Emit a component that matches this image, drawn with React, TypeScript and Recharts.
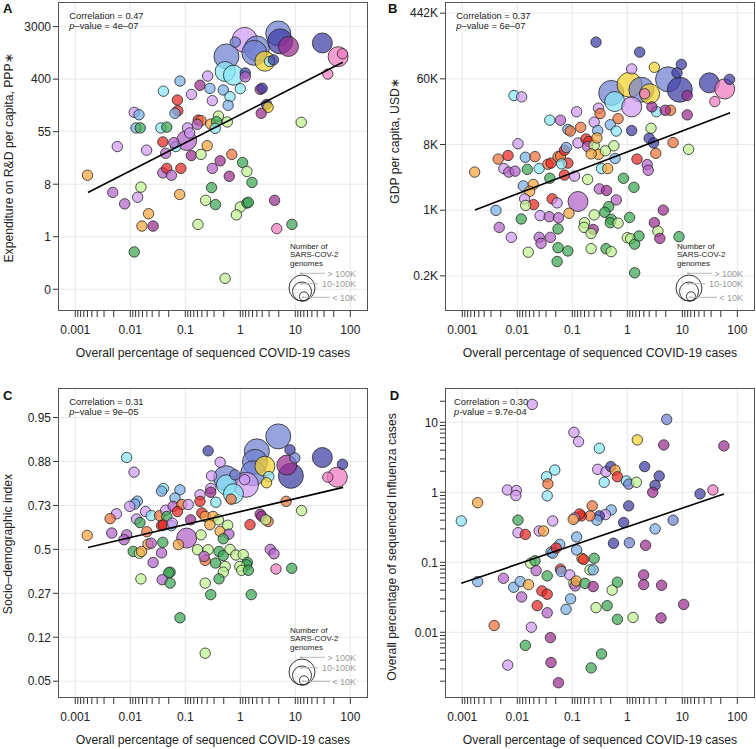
import React from "react";
import { ScatterChart, Scatter, XAxis, YAxis, CartesianGrid } from "recharts";

// [covid % sequenced, y value, region, genome class (0 <10K, 1 10-100K, 2 >100K)]
type Pt = [number, number, string, number];

const xTickLabels = ["0.001", "0.01", "0.1", "1", "10", "100"];
const rdTickLabels = ["0", "1", "8", "55", "400", "3000"];
const gdpTickLabels = ["0.2K", "1K", "8K", "60K", "442K"];
const sdiTickLabels = ["0.05", "0.12", "0.27", "0.5", "0.73", "0.88", "0.95"];
const fluTickLabels = ["0.01", "0.1", "1", "10"];

const correlations = ["0.47", "0.37", "0.31", "0.30"];
const pValues = ["–value = 4e–07", "–value = 6e–07", "–value = 9e–05", "-value = 9.7e-04"];
const genomeLabels = ["> 100K", "10-100K", "< 10K"];

const rdPoints: Pt[] = [
  [0.56, 960, "bl", 2], [1.2, 1800, "lv", 2], [2.0, 1300, "bl", 2], [1.8, 1100, "bl", 2],
  [4.9, 2300, "bl", 2], [5.3, 1700, "nv", 2], [7.5, 1400, "mg", 1], [31, 1600, "nv", 1],
  [60, 950, "pk", 1], [2.8, 800, "ye", 1], [0.53, 540, "cy", 1], [0.75, 470, "cy", 1],
  [0.81, 1650, "bl", 0], [1.23, 510, "nv", 0], [1.23, 440, "vi", 0], [3.4, 790, "cy", 0],
  [4.0, 840, "nv", 0], [72, 1060, "pk", 0], [39, 490, "pk", 0], [0.08, 375, "lb", 0],
  [0.04, 255, "cy", 0], [0.13, 226, "lv", 0], [0.185, 320, "mg", 0], [0.255, 455, "lv", 0],
  [0.28, 284, "lb", 0], [0.31, 178, "lv", 0], [0.49, 267, "lb", 0], [0.65, 207, "cy", 0],
  [0.6, 149, "lb", 0], [1.0, 281, "cy", 0], [2.3, 273, "mg", 0], [2.5, 285, "nv", 0],
  [0.072, 182, "rd", 0], [0.073, 121, "rd", 0], [0.065, 110, "lb", 0], [0.0118, 114, "lv", 0],
  [0.0144, 104, "lb", 0], [0.0127, 63, "lb", 0], [0.0152, 63, "gr", 0], [0.036, 63, "cy", 0],
  [0.046, 65, "gr", 0], [0.11, 63, "lv", 0], [0.172, 85, "rd", 0], [0.193, 83, "ro", 0],
  [0.165, 72, "vi", 0], [0.29, 73, "or", 0], [0.4, 99, "lg", 0], [0.37, 80, "gr", 0],
  [0.58, 79, "lg", 0], [0.35, 62, "cy", 0], [3.0, 154, "nv", 0], [3.2, 138, "ye", 0],
  [2.4, 110, "mg", 0], [12.8, 78, "lg", 0], [0.0058, 31, "lv", 0], [0.0198, 27, "lv", 0],
  [0.039, 37, "rd", 0], [0.044, 24, "vi", 0], [0.067, 31, "cy", 0], [0.062, 36, "vi", 0],
  [0.106, 39, "vi", 1], [0.12, 52, "lv", 0], [0.25, 32, "or", 0], [0.129, 22, "mg", 0],
  [0.193, 23, "lg", 0], [0.43, 18, "mg", 0], [0.7, 23, "ro", 0], [0.31, 13.5, "vi", 0],
  [0.63, 10, "mg", 0], [1.1, 16.9, "gr", 0], [1.32, 12, "lg", 0], [1.63, 7.9, "gr", 0],
  [0.039, 11.4, "vi", 0], [0.046, 13.5, "rd", 0], [0.056, 10.4, "vi", 0], [0.083, 13.5, "rd", 0],
  [0.00167, 10.4, "or", 0], [0.0048, 5.4, "vi", 0], [0.0079, 3.5, "vi", 0], [0.0136, 4.5, "lv", 0],
  [0.0156, 6.6, "lg", 0], [0.079, 5.0, "or", 0], [0.3, 6.5, "gr", 0], [0.234, 4.0, "lg", 0],
  [0.355, 3.4, "gr", 0], [1.0, 3.1, "lg", 0], [0.85, 2.3, "lg", 0], [1.32, 3.6, "gr", 0],
  [1.4, 3.7, "gr", 0], [4.2, 4.0, "mg", 0], [0.0215, 2.4, "or", 0], [0.0163, 1.5, "or", 0],
  [0.026, 1.5, "mg", 0], [0.17, 1.6, "lg", 0], [8.7, 1.6, "gr", 0], [4.6, 1.36, "pk", 0],
  [0.0118, 0.56, "gr", 0], [0.53, 0.205, "lg", 0],
];
const rdFit: [number, number][] = [[0.0017, 5.4], [73, 770]];

const gdpPoints: Pt[] = [
  [0.51, 39000, "bl", 2], [1.1, 50000, "ye", 2], [1.8, 43000, "bl", 2], [5.5, 59000, "bl", 2],
  [9.0, 43000, "nv", 2], [31, 53000, "nv", 1], [59, 44000, "pk", 1], [0.59, 30000, "cy", 1],
  [1.2, 25500, "lv", 1], [2.55, 38000, "ye", 1], [0.127, 1430, "vi", 1],
  [0.27, 183000, "nv", 0], [1.68, 135000, "nv", 0], [1.2, 81000, "lv", 0], [3.1, 85000, "ye", 0],
  [9.6, 93000, "nv", 0], [8.0, 72000, "nv", 0], [72, 59000, "nv", 0], [2.07, 38000, "pk", 0],
  [12.3, 36000, "mg", 0], [39, 30000, "pk", 0], [3.4, 22000, "cy", 0], [6.1, 23000, "ro", 0],
  [4.9, 23000, "mg", 0], [2.8, 25500, "mg", 0], [12.3, 20000, "mg", 0], [0.0087, 36000, "cy", 0],
  [0.012, 34600, "lv", 0], [0.039, 17000, "cy", 0], [0.061, 17000, "vi", 0], [0.12, 22000, "lv", 0],
  [0.3, 24500, "lv", 0], [0.32, 20800, "ro", 0], [0.68, 17800, "ro", 0], [0.25, 16000, "lv", 0],
  [0.142, 13700, "ro", 0], [0.083, 12800, "lb", 0], [0.092, 12200, "ro", 0], [0.29, 12400, "lb", 0],
  [0.49, 14800, "lb", 0], [0.63, 12200, "cy", 0], [1.2, 12400, "nv", 0], [2.7, 13300, "lg", 0],
  [2.5, 9800, "nv", 0], [3.0, 8500, "nv", 0], [6.8, 8600, "ro", 0], [13, 7000, "lg", 0],
  [0.0103, 8300, "lv", 0], [0.0045, 5200, "ro", 0], [0.0068, 5800, "rd", 0], [0.014, 5500, "lb", 0],
  [0.021, 5600, "ro", 0], [0.0057, 3900, "lv", 0], [0.007, 3500, "vi", 0], [0.0091, 3600, "vi", 0],
  [0.0152, 3800, "gr", 0], [0.025, 3900, "cy", 0], [0.036, 4450, "ro", 0], [0.041, 4600, "rd", 0],
  [0.055, 5600, "ro", 0], [0.061, 5700, "ro", 0], [0.072, 6800, "rd", 0], [0.078, 7400, "lb", 0],
  [0.083, 4600, "rd", 0], [0.064, 4500, "cy", 0], [0.127, 8500, "lv", 0], [0.177, 9600, "rd", 0],
  [0.2, 8900, "rd", 0], [0.19, 7600, "vi", 0], [0.25, 7900, "lg", 0], [0.28, 9900, "or", 0],
  [0.3, 6000, "or", 0], [0.22, 6100, "or", 0], [0.4, 6700, "lg", 0], [0.57, 7800, "lg", 0],
  [0.6, 5300, "lb", 0], [0.34, 3900, "cy", 0], [0.44, 3900, "or", 0], [1.5, 5200, "rd", 0],
  [2.3, 4400, "vi", 0], [2.4, 3700, "vi", 0], [3.3, 6200, "ro", 0], [0.072, 3200, "rd", 0],
  [0.11, 3100, "lv", 0], [0.039, 2900, "gr", 0], [0.19, 2800, "lg", 0], [0.85, 2900, "gr", 0],
  [1.32, 2200, "gr", 0], [0.00168, 3500, "or", 0], [0.0129, 2300, "lb", 0], [0.0195, 2400, "or", 0],
  [0.0168, 1950, "or", 0], [0.0136, 1550, "lv", 0], [0.0198, 1300, "rd", 0], [0.0142, 1270, "lg", 0],
  [0.043, 1550, "rd", 0], [0.053, 1370, "lv", 0], [0.087, 1000, "or", 0], [0.31, 2100, "vi", 0],
  [0.42, 2000, "mg", 0], [0.63, 1500, "vi", 0], [0.46, 1220, "gr", 0], [0.39, 1030, "gr", 0],
  [0.25, 950, "lg", 0], [0.51, 830, "gr", 0], [1.1, 880, "gr", 0], [0.0041, 1090, "lb", 0],
  [0.026, 930, "lv", 0], [0.038, 900, "vi", 0], [0.056, 870, "vi", 0], [0.0118, 840, "gr", 0],
  [0.0047, 650, "vi", 0], [0.0078, 480, "lv", 0], [0.025, 480, "vi", 0], [0.027, 400, "vi", 0],
  [0.04, 480, "vi", 0], [0.055, 620, "gr", 0], [0.167, 750, "lg", 0], [0.163, 650, "lg", 0],
  [0.24, 610, "mg", 0], [0.22, 540, "lg", 0], [0.49, 750, "gr", 0], [0.68, 740, "lg", 0],
  [3.1, 750, "mg", 0], [4.5, 1100, "mg", 0], [3.6, 580, "lg", 0], [3.9, 465, "mg", 0],
  [8.7, 490, "gr", 0], [1.0, 475, "lg", 0], [1.15, 460, "lg", 0], [1.36, 390, "gr", 0],
  [1.63, 500, "gr", 0], [0.22, 340, "lg", 0], [0.41, 340, "gr", 0], [0.51, 310, "lg", 0],
  [0.055, 350, "gr", 0], [0.083, 317, "gr", 0], [0.0158, 305, "lg", 0], [0.053, 230, "gr", 0],
  [1.36, 163, "gr", 0],
];
const gdpFit: [number, number][] = [[0.0017, 1100], [74, 21400]];

const sdiPoints: Pt[] = [
  [4.9, 0.929, "bl", 2], [2.0, 0.903, "bl", 2], [1.85, 0.88, "bl", 2], [1.72, 0.85, "bl", 2],
  [0.55, 0.835, "bl", 2], [0.56, 0.813, "cy", 1], [0.75, 0.78, "cy", 1], [1.27, 0.813, "lv", 2],
  [2.8, 0.869, "ye", 1], [7.0, 0.872, "mg", 1], [8.3, 0.842, "nv", 2], [31, 0.89, "nv", 1],
  [58, 0.838, "pk", 1], [0.106, 0.564, "vi", 1],
  [0.26, 0.904, "nv", 0], [0.43, 0.879, "lv", 0], [8.0, 0.906, "nv", 0], [9.8, 0.889, "bl", 0],
  [0.3, 0.842, "lv", 0], [0.29, 0.8, "lv", 0], [0.8, 0.845, "bl", 0], [1.2, 0.83, "lv", 0],
  [3.3, 0.84, "cy", 0], [3.0, 0.82, "ye", 0], [39, 0.838, "pk", 0], [72, 0.874, "nv", 0],
  [0.0086, 0.89, "cy", 0], [0.0117, 0.853, "lv", 0], [0.04, 0.8, "cy", 0], [0.037, 0.79, "lb", 0],
  [0.08, 0.795, "lb", 0], [0.065, 0.763, "lb", 0], [0.185, 0.776, "lv", 0], [0.29, 0.786, "mg", 0],
  [0.36, 0.745, "cy", 0], [0.68, 0.758, "ro", 0], [0.0134, 0.75, "lb", 0], [0.012, 0.737, "lb", 0],
  [0.0098, 0.727, "lv", 0], [0.0056, 0.692, "lv", 0], [0.0043, 0.668, "ro", 0], [0.013, 0.666, "lv", 0],
  [0.015, 0.648, "gr", 0], [0.019, 0.703, "lv", 0], [0.024, 0.683, "cy", 0], [0.034, 0.683, "ro", 0],
  [0.044, 0.709, "lv", 0], [0.046, 0.679, "gr", 0], [0.06, 0.727, "vi", 0], [0.086, 0.735, "ro", 0],
  [0.072, 0.703, "rd", 0], [0.113, 0.735, "lv", 0], [0.185, 0.749, "rd", 0], [0.2, 0.696, "rd", 0],
  [0.23, 0.679, "or", 0], [0.32, 0.679, "or", 0], [0.4, 0.662, "lg", 0], [0.28, 0.637, "or", 0],
  [0.43, 0.601, "or", 0], [0.59, 0.634, "lg", 0], [0.62, 0.586, "vi", 0], [0.49, 0.56, "gr", 0],
  [0.037, 0.632, "rd", 0], [0.04, 0.635, "rd", 0], [0.056, 0.632, "lb", 0], [0.058, 0.645, "lv", 0],
  [0.125, 0.662, "mg", 0], [0.02, 0.599, "ro", 0], [0.0086, 0.582, "vi", 0], [0.0077, 0.555, "vi", 0],
  [0.0046, 0.592, "vi", 0], [0.00165, 0.579, "or", 0], [0.021, 0.53, "or", 0], [0.024, 0.535, "vi", 0],
  [0.039, 0.54, "gr", 0], [0.0113, 0.488, "gr", 0], [0.0146, 0.478, "lg", 0], [0.016, 0.488, "or", 0],
  [0.037, 0.48, "vi", 0], [0.026, 0.426, "vi", 0], [0.075, 0.527, "or", 0], [0.193, 0.582, "lg", 0],
  [0.167, 0.498, "lg", 0], [0.26, 0.498, "lg", 0], [0.23, 0.438, "ro", 0], [0.22, 0.46, "vi", 0],
  [0.355, 0.423, "gr", 0], [0.41, 0.488, "gr", 0], [0.49, 0.465, "gr", 0], [0.65, 0.5, "lg", 0],
  [0.83, 0.468, "lg", 0], [1.13, 0.47, "lg", 0], [1.34, 0.426, "gr", 0], [1.3, 0.413, "gr", 0],
  [0.98, 0.404, "lg", 0], [1.06, 0.383, "lg", 0], [1.4, 0.383, "gr", 0], [0.53, 0.404, "lg", 0],
  [0.49, 0.373, "lg", 0], [0.41, 0.338, "gr", 0], [0.23, 0.317, "lg", 0], [0.29, 0.263, "gr", 0],
  [1.58, 0.263, "gr", 0], [0.053, 0.373, "gr", 0], [0.05, 0.37, "gr", 0], [0.038, 0.334, "vi", 0],
  [0.053, 0.317, "gr", 0], [0.0156, 0.338, "lg", 0], [3.5, 0.5, "vi", 0], [4.1, 0.475, "vi", 0],
  [4.45, 0.39, "pk", 0], [8.6, 0.394, "gr", 0], [13, 0.707, "lg", 0], [6.8, 0.749, "ro", 0],
  [2.3, 0.69, "mg", 0], [2.45, 0.68, "mg", 0], [3.2, 0.654, "ro", 0], [2.9, 0.662, "lg", 0],
  [1.5, 0.637, "rd", 0], [0.08, 0.174, "gr", 0], [0.23, 0.086, "lg", 0],
];
const sdiFit: [number, number][] = [[0.0017, 0.511], [74, 0.804]];

const fluPoints: Pt[] = [
  [0.0187, 18, "lv", 0], [5.2, 11, "bl", 0], [0.107, 7.2, "lv", 0], [0.13, 5.3, "lv", 0],
  [0.31, 4.25, "cy", 0], [1.52, 5.6, "ye", 0], [4.6, 4.75, "mg", 0], [57, 4.6, "mg", 0],
  [0.048, 2.08, "cy", 0], [0.034, 1.67, "cy", 0], [0.036, 1.32, "ro", 0], [0.035, 0.89, "cy", 0],
  [0.29, 2.13, "lv", 0], [0.41, 1.97, "lv", 0], [0.5, 2.33, "nv", 0], [0.6, 2.08, "or", 0],
  [0.66, 1.67, "rd", 0], [0.38, 1.39, "cy", 0], [0.96, 1.45, "cy", 0], [1.06, 1.31, "bl", 0],
  [1.46, 1.39, "lg", 0], [2.07, 2.33, "nv", 0], [3.8, 1.71, "nv", 0], [3.2, 1.26, "nv", 0],
  [2.9, 1.0, "mg", 0], [21, 0.95, "nv", 0], [36, 1.08, "pk", 0], [6.8, 0.4, "bl", 0],
  [3.2, 0.3, "lb", 0], [1.06, 0.64, "nv", 0], [0.86, 0.37, "nv", 0], [0.56, 0.187, "nv", 0],
  [1.09, 0.19, "bl", 0], [2.15, 0.175, "mg", 0], [0.51, 0.56, "lb", 0], [0.4, 0.48, "lv", 0],
  [0.31, 0.46, "nv", 0], [0.28, 0.4, "lb", 0], [0.23, 0.64, "ro", 0], [0.21, 0.46, "ro", 0],
  [0.146, 0.46, "rd", 0], [0.135, 0.49, "rd", 0], [0.11, 0.43, "lv", 0], [0.104, 0.41, "or", 0],
  [0.12, 0.23, "lb", 0], [0.12, 0.15, "lb", 0], [0.059, 0.18, "lb", 0], [0.041, 0.14, "lb", 0],
  [0.044, 0.135, "lb", 0], [0.051, 0.16, "rd", 0], [0.00096, 0.39, "cy", 0], [0.0019, 0.71, "or", 0],
  [0.0066, 1.08, "lv", 0], [0.0096, 1.06, "lv", 0], [0.0094, 0.9, "lv", 0], [0.0103, 0.4, "gr", 0],
  [0.0103, 0.265, "lv", 0], [0.014, 0.25, "rd", 0], [0.025, 0.28, "lv", 0], [0.03, 0.28, "or", 0],
  [0.044, 0.39, "lv", 0], [0.0019, 0.053, "lb", 0], [0.0056, 0.059, "vi", 0], [0.0086, 0.044, "lb", 0],
  [0.0113, 0.053, "lb", 0], [0.012, 0.032, "vi", 0], [0.016, 0.048, "or", 0], [0.0175, 0.097, "lg", 0],
  [0.021, 0.105, "gr", 0], [0.022, 0.076, "vi", 0], [0.035, 0.064, "gr", 0], [0.028, 0.039, "rd", 0],
  [0.035, 0.035, "rd", 0], [0.023, 0.024, "rd", 0], [0.035, 0.019, "vi", 0], [0.061, 0.08, "rd", 0],
  [0.063, 0.074, "lb", 0], [0.09, 0.066, "lv", 0], [0.107, 0.05, "lg", 0], [0.113, 0.046, "vi", 0],
  [0.118, 0.054, "or", 0], [0.17, 0.05, "gr", 0], [0.21, 0.078, "lg", 0], [0.24, 0.078, "lb", 0],
  [0.25, 0.114, "gr", 0], [0.15, 0.114, "or", 0], [0.16, 0.11, "rd", 0], [0.24, 0.045, "mg", 0],
  [0.27, 0.0225, "lg", 0], [0.43, 0.024, "gr", 0], [0.53, 0.04, "lg", 0], [0.66, 0.052, "gr", 0],
  [0.66, 0.0153, "gr", 0], [1.27, 0.0163, "lg", 0], [1.98, 0.066, "mg", 0], [1.98, 0.048, "mg", 0],
  [4.2, 0.047, "mg", 0], [4.1, 0.016, "mg", 0], [10.6, 0.025, "mg", 0], [0.093, 0.03, "lb", 0],
  [0.077, 0.0213, "lb", 0], [0.04, 0.0084, "mg", 0], [0.041, 0.0037, "mg", 0], [0.056, 0.0019, "mg", 0],
  [0.018, 0.0118, "lv", 0], [0.014, 0.0065, "gr", 0], [0.0067, 0.0034, "lv", 0], [0.0038, 0.0125, "ro", 0],
  [0.22, 0.0031, "gr", 0], [0.34, 0.0049, "gr", 0],
];
const fluFit: [number, number][] = [[0.00096, 0.05], [57, 0.946]];

const FONT = '"Liberation Sans", Arial, Helvetica, sans-serif';
const COLORS: Record<string, string> = {
  nv: "#3b3ba3", bl: "#6f80d0", lb: "#78aee6", cy: "#86e6f7", lv: "#d09af5",
  vi: "#b463c9", mg: "#9b2d8f", pk: "#f07ac0", rd: "#e52521", ro: "#f07238",
  or: "#f8a33c", ye: "#f6d22c", lg: "#bff28f", gr: "#3aa652",
};
const RADIUS = [5.2, 10, 12.5];

const logit = (p: number) => Math.log(p / (1 - p));
const rowsOf = (pts: Pt[], f = (v: number) => v) =>
  pts.map(([x, y, r, g]) => ({ x, y: f(y), r, g })).sort((a, b) => b.g - a.g);
const fitOf = (pts: [number, number][], f = (v: number) => v) => pts.map(([x, y]) => ({ x, y: f(y) }));

const labelFor = (values: number[], labels: string[]) => (v: number) => {
  const i = values.findIndex((m) => Math.abs(m - v) <= Math.abs(m) * 1e-6 + 1e-9);
  return i >= 0 ? labels[i] : "";
};

const xMajor = xTickLabels.map(Number);
const xMinor = xMajor.slice(0, -1).flatMap((m) => [2, 3, 4, 5, 6, 7, 8, 9].map((j) => (m * 10) / j));
const xTicks = [...xMajor, ...xMinor].sort((a, b) => a - b);
const X_DOMAIN = [0.000506, 201];
const xLabel = labelFor(xMajor, xTickLabels);

const rdMajor = rdTickLabels.map((_, i) => Math.exp(2 * i - 2));
const gdpMajor = gdpTickLabels.map((_, i) => Math.exp(5 + 2 * i));
const sdiMajor = sdiTickLabels.map((_, i) => i - 3);
const fluMajor = fluTickLabels.map(Number);
const fluMinor = [0.001, 0.01, 0.1, 1, 10]
  .flatMap((m) => [2, 3, 4, 5, 6, 7, 8, 9].map((j) => m * j))
  .filter((v) => v > 0.00119 && v < 29.9);

function Bubble(props: any) {
  const { cx, cy, payload } = props;
  if (typeof cx !== "number" || typeof cy !== "number") return <g />;
  return (
    <circle cx={cx} cy={cy} r={RADIUS[payload.g]} fill={COLORS[payload.r]}
      fillOpacity={0.72} stroke="#262626" strokeWidth={0.8} />
  );
}
const NoDot = () => <g />;

// ticks drawn by hand so minor ticks keep their marks without labels
function XTick(props: any) {
  const { x, y, payload } = props;
  return (
    <g>
      <line x1={x} y1={y} x2={x} y2={y + 7} stroke="#333" strokeWidth={1} />
      <text x={x} y={y + 23.5} textAnchor="middle" fontSize={12} fontFamily={FONT} fill="#222">
        {xLabel(payload.value)}
      </text>
    </g>
  );
}
function makeYTick(fmt: (v: number) => string) {
  return function YTick(props: any) {
    const { x, y, payload } = props;
    return (
      <g>
        <line x1={x - 6} y1={y} x2={x} y2={y} stroke="#333" strokeWidth={1} />
        <text x={x - 8} y={y + 4.3} textAnchor="end" fontSize={12} fontFamily={FONT} fill="#222">
          {fmt(payload.value)}
        </text>
      </g>
    );
  };
}

function SizeLegend({ x0, y0 }: { x0: number; y0: number }) {
  const rings = [13, 9.5, 4.6];
  const lineY = [y0 - 27.7, y0 - 17.2, y0 - 3.7];
  const lineX = [x0 - 1, x0 - 1, x0 + 1];
  const lineEnd = [x0 + 23, x0 + 16, x0 + 28];
  return (
    <g>
      <text x={x0 - 12} y={y0 - 52} fontSize={8} fill="#222">Number of</text>
      <text x={x0 - 12} y={y0 - 43.7} fontSize={8} fill="#222">SARS-COV-2</text>
      <text x={x0 - 12} y={y0 - 35.4} fontSize={8} fill="#222">genomes</text>
      {rings.map((r, i) => (
        <circle key={i} cx={x0 + (i === 2 ? 2 : 0)} cy={y0 - r} r={r} fill="none" stroke="#222" strokeWidth={0.9} />
      ))}
      {genomeLabels.map((lab, i) => (
        <g key={lab}>
          <line x1={lineX[i]} y1={lineY[i]} x2={lineEnd[i]} y2={lineY[i]} stroke="#b4b4b4" strokeWidth={1} />
          <circle cx={lineX[i]} cy={lineY[i]} r={1} fill="#b4b4b4" />
          <text x={x0 + 54} y={lineY[i] + 3.2} fontSize={9} fill="#9a9a9a" textAnchor="end">{lab}</text>
        </g>
      ))}
    </g>
  );
}

interface PanelProps {
  letter: string; letterX: number; letterY: number;
  left: number; top: number; width: number; height: number;
  margin: { top: number; right: number; bottom: number; left: number };
  rows: any[]; fit: any[];
  yScale: "log" | "linear"; yDomain: number[]; yTicks: number[]; yMajor: number[]; yLabels: string[];
  yTitle: string; yTitleDx: number; yTitleY: number;
  idx: number; corrDx: number; legendDy: number | null;
}

function Panel(p: PanelProps) {
  const yWidth = 51;
  const fx = p.margin.left + yWidth;
  const fy = p.margin.top;
  const fw = p.width - fx - p.margin.right;
  const fh = p.height - p.margin.top - p.margin.bottom - 30;
  const YTick = makeYTick(labelFor(p.yMajor, p.yLabels));
  return (
    <div style={{ position: "absolute", left: p.left, top: p.top, width: p.width, height: p.height }}>
      <ScatterChart width={p.width} height={p.height} margin={p.margin}>
        <CartesianGrid stroke="#e8e8e8" verticalValues={xMajor} horizontalValues={p.yMajor} />
        <XAxis type="number" dataKey="x" scale="log" domain={X_DOMAIN} allowDataOverflow
          ticks={xTicks} interval={0} tick={<XTick />} tickLine={false} tickSize={0} tickMargin={0}
          axisLine={false} height={30} />
        <YAxis type="number" dataKey="y" scale={p.yScale} domain={p.yDomain} allowDataOverflow
          ticks={p.yTicks} interval={0} tick={<YTick />} tickLine={false} tickSize={0} tickMargin={0}
          axisLine={false} width={yWidth} />
        <Scatter data={p.rows} shape={Bubble} isAnimationActive={false} />
        <Scatter data={p.fit} shape={NoDot} line={{ stroke: "#000", strokeWidth: 1.6 }} isAnimationActive={false} />
      </ScatterChart>
      <svg width={p.width} height={p.height} fontFamily={FONT}
        style={{ position: "absolute", left: 0, top: 0, pointerEvents: "none" }}>
        <rect x={fx - 0.5} y={fy - 0.5} width={fw + 1} height={fh + 1} fill="none" stroke="#555" strokeWidth={1} />
        <text x={p.letterX} y={p.letterY} fontSize={13} fontWeight="bold" fill="#111">{p.letter}</text>
        <text x={fx + p.corrDx} y={fy + 15.5} fontSize={9.3} fill="#222">Correlation = {correlations[p.idx]}</text>
        <text x={fx + p.corrDx} y={fy + 26.3} fontSize={9.3} fill="#222">
          <tspan fontStyle="italic">p</tspan>{pValues[p.idx]}
        </text>
        <text transform={`translate(${fx - p.yTitleDx},${p.yTitleY}) rotate(-90)`} textAnchor="middle"
          fontSize={12.2} fill="#222">{p.yTitle}</text>
        <text x={fx + fw / 2} y={fy + fh + 47} textAnchor="middle" fontSize={12.2} fill="#222">
          Overall percentage of sequenced COVID-19 cases
        </text>
        {p.legendDy !== null && <SizeLegend x0={fx + fw - 65} y0={fy + fh - 9 + p.legendDy} />}
      </svg>
    </div>
  );
}

export default function App() {
  return (
    <div style={{ position: "absolute", left: 0, top: 0, width: 756, height: 749, background: "#fff", fontFamily: FONT }}>
      <Panel letter="A" letterX={3} letterY={12.5} left={0} top={0} width={378} height={370}
        margin={{ top: 3, right: 11, bottom: 30, left: 8 }}
        rows={rowsOf(rdPoints)} fit={fitOf(rdFit)}
        yScale="log" yDomain={[0.0614, 7332]} yTicks={rdMajor} yMajor={rdMajor} yLabels={rdTickLabels}
        yTitle="Expenditure on R&D per capita, PPP∗" yTitleDx={46.5} yTitleY={158}
        idx={0} corrDx={10.3} legendDy={0} />
      <Panel letter="B" letterX={10} letterY={12.5} left={378} top={0} width={378} height={370}
        margin={{ top: 3, right: 2, bottom: 30, left: 17 }}
        rows={rowsOf(gdpPoints)} fit={fitOf(gdpFit)}
        yScale="log" yDomain={[52.5, 603000]} yTicks={gdpMajor} yMajor={gdpMajor} yLabels={gdpTickLabels}
        yTitle="GDP per capita, USD∗" yTitleDx={47.3} yTitleY={141}
        idx={1} corrDx={10.3} legendDy={0} />
      <Panel letter="C" letterX={3} letterY={30} left={0} top={370} width={378} height={379}
        margin={{ top: 19, right: 11, bottom: 22, left: 8 }}
        rows={rowsOf(sdiPoints, logit)} fit={fitOf(sdiFit, logit)}
        yScale="linear" yDomain={[-3.36, 3.65]} yTicks={sdiMajor} yMajor={sdiMajor} yLabels={sdiTickLabels}
        yTitle="Socio–demographic index" yTitleDx={46.7} yTitleY={174}
        idx={2} corrDx={10.3} legendDy={-3} />
      <Panel letter="D" letterX={11.7} letterY={30} left={378} top={370} width={378} height={379}
        margin={{ top: 19, right: 2, bottom: 22, left: 17 }}
        rows={rowsOf(fluPoints)} fit={fitOf(fluFit)}
        yScale="log" yDomain={[0.00119, 29.9]} yTicks={[...fluMajor, ...fluMinor].sort((a, b) => a - b)}
        yMajor={fluMajor} yLabels={fluTickLabels}
        yTitle="Overall percentage of sequenced Influenza cases" yTitleDx={49.7} yTitleY={177}
        idx={3} corrDx={8} legendDy={null} />
    </div>
  );
}
